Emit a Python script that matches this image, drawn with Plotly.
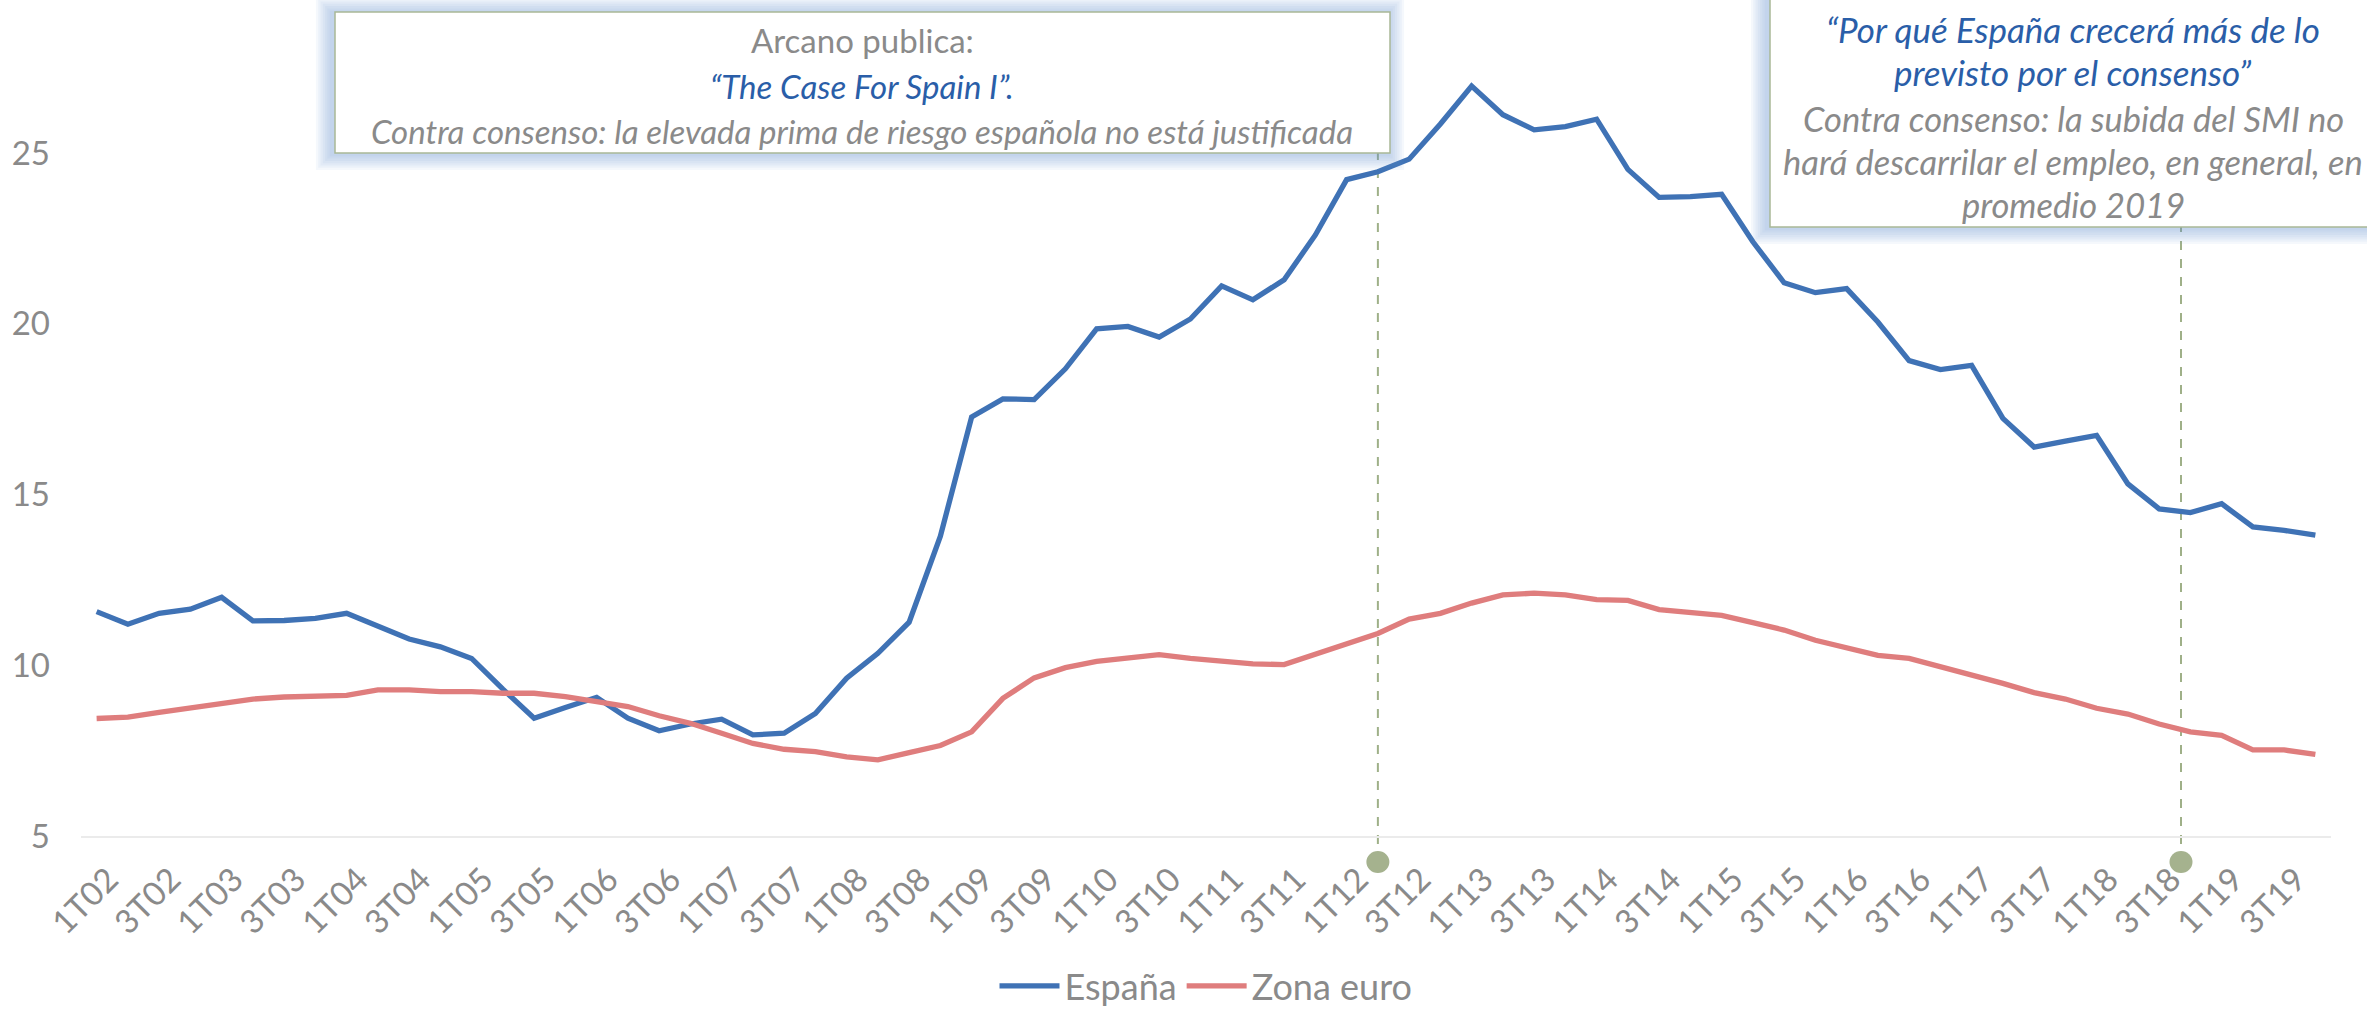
import plotly.graph_objects as go

# Quarterly labels 1T02 .. 4T19
years = list(range(2002, 2020))
categories = [f"{q}T{y % 100:02d}" for y in years for q in (1, 2, 3, 4)]
tick_labels = categories[::2]

espana = [
    11.57, 11.20, 11.52, 11.64, 11.99, 11.30, 11.31, 11.37,
    11.52, 11.13, 10.77, 10.54, 10.20, 9.30, 8.45, 8.76,
    9.06, 8.45, 8.08, 8.28, 8.42, 7.96, 8.01, 8.59,
    9.62, 10.35, 11.26, 13.78, 17.27, 17.80, 17.78, 18.68,
    19.85, 19.92, 19.61, 20.14, 21.11, 20.70, 21.29, 22.60,
    24.22, 24.45, 24.82, 25.85, 26.96, 26.12, 25.68, 25.77,
    25.99, 24.52, 23.70, 23.72, 23.79, 22.40, 21.20, 20.91,
    21.03, 20.05, 18.92, 18.66, 18.78, 17.23, 16.39, 16.56,
    16.73, 15.31, 14.58, 14.47, 14.73, 14.05, 13.95, 13.81,
]
zona_euro = [
    8.44, 8.48, 8.62, 8.76, 8.89, 9.01, 9.07, 9.08,
    9.12, 9.28, 9.28, 9.23, 9.23, 9.18, 9.18, 9.08,
    8.93, 8.79, 8.52, 8.30, 8.01, 7.71, 7.54, 7.47,
    7.32, 7.23, 7.44, 7.65, 8.05, 9.03, 9.63, 9.93,
    10.11, 10.20, 10.31, 10.20, 10.13, 10.04, 10.02, 10.33,
    10.66, 10.93, 11.35, 11.52, 11.82, 12.06, 12.11, 12.06,
    11.92, 11.90, 11.63, 11.53, 11.46, 11.25, 11.03, 10.73,
    10.50, 10.29, 10.20, 9.96, 9.73, 9.47, 9.20, 9.01,
    8.74, 8.57, 8.28, 8.05, 7.95, 7.52, 7.52, 7.39,
]
y_ticks = [5, 10, 15, 20, 25]

# Publication dates marked on the time axis (category position)
event_pos = [41, 66.7]

W, H = 2367, 1011
ML, MR, MT, MB = 81, 36, 0, 175
PW, PH = W - ML - MR, H - MT - MB

GRAY = "#8a8a8a"
BLUE_TXT = "#2a5ea8"
FONT = "Lato"


def px(x):
    return (x - ML) / PW


def py(y):
    return (MT + PH - y) / PH


fig = go.Figure()
fig.add_trace(go.Scatter(x=categories, y=espana, name="España", mode="lines",
                         line=dict(color="#3f72b5", width=5.3)))
fig.add_trace(go.Scatter(x=categories, y=zona_euro, name="Zona euro", mode="lines",
                         line=dict(color="#df7d7d", width=5.3)))

shapes = []
annotations = []

# Dashed markers with dots under the axis
box_bottoms = [153, 227]
for pos, yb in zip(event_pos, box_bottoms):
    shapes.append(dict(type="line", xref="x", yref="paper", x0=pos, x1=pos,
                       y0=py(862), y1=py(yb),
                       line=dict(color="#9fb088", width=2, dash="dash"), layer="below"))
    shapes.append(dict(type="circle", xref="x", yref="paper", xsizemode="pixel",
                       ysizemode="pixel", xanchor=pos, yanchor=py(862),
                       x0=-11.5, x1=11.5, y0=-11, y1=11,
                       fillcolor="#a5b28e", line=dict(width=0)))


def text_box(x0, y0, x1, y1):
    # soft blue glow around the callout box
    for k in range(7, 0, -1):
        e = 2.3 * k
        shapes.append(dict(type="rect", xref="paper", yref="paper",
                           x0=px(x0 - e - 3), x1=px(x1 + e - 2),
                           y0=py(y1 + e + 1), y1=py(y0 - e + 1),
                           fillcolor="rgba(110,150,210,0.065)", line=dict(width=0)))
    shapes.append(dict(type="rect", xref="paper", yref="paper",
                       x0=px(x0), x1=px(x1), y0=py(y1), y1=py(y0),
                       fillcolor="white", line=dict(color="#a9b896", width=1.5)))


def line_text(text, xc, yc, color=GRAY, italic=False, size=33):
    t = f"<i>{text}</i>" if italic else text
    annotations.append(dict(text=t, xref="paper", yref="paper", x=px(xc), y=py(yc),
                            xanchor="center", yanchor="middle", showarrow=False,
                            font=dict(family=FONT, size=size, color=color)))


# Left callout
text_box(335, 12, 1390, 153)
line_text("Arcano publica:", 862, 40)
line_text("“The Case For Spain I”.", 862, 86, color=BLUE_TXT, italic=True)
line_text("Contra consenso: la elevada prima de riesgo española no está justificada",
          862, 131, italic=True)

# Right callout
text_box(1770, -60, 2378, 227)
line_text("“Por qué España crecerá más de lo", 2073, 29, color=BLUE_TXT, italic=True, size=35)
line_text("previsto por el consenso”", 2073, 72, color=BLUE_TXT, italic=True, size=35)
line_text("Contra consenso: la subida del SMI no", 2073, 118, italic=True, size=34.5)
line_text("hará descarrilar el empleo, en general, en", 2073, 161, italic=True, size=34.5)
line_text("promedio 2019", 2073, 204, italic=True, size=34.5)

fig.update_layout(
    width=W, height=H,
    margin=dict(l=ML, r=MR, t=MT, b=MB, autoexpand=False),
    paper_bgcolor="white", plot_bgcolor="white",
    font=dict(family=FONT, size=33, color=GRAY),
    shapes=shapes, annotations=annotations,
    showlegend=True,
    legend=dict(orientation="h", x=0.5, xanchor="center", y=py(986), yanchor="middle",
                font=dict(family=FONT, size=36, color=GRAY), itemwidth=60,
                tracegroupgap=0, bgcolor="rgba(0,0,0,0)"),
    xaxis=dict(type="category", range=[-0.5, len(categories) - 0.5],
               tickmode="array", tickvals=tick_labels, ticktext=tick_labels,
               tickangle=-45, showgrid=False, zeroline=False,
               showline=True, linecolor="#ebebeb", linewidth=2, ticks="",
               ticklabelshift=12, ticklabelstandoff=9,
               automargin=False, tickfont=dict(family=FONT, size=33, color=GRAY)),
    yaxis=dict(range=[5, 5 + PH / 34.15], tickvals=y_ticks, showgrid=False,
               zeroline=False, showline=False, ticks="", automargin=False,
               ticklabelstandoff=30,
               tickfont=dict(family=FONT, size=33, color=GRAY)),
)

fig.write_html("out.html")
